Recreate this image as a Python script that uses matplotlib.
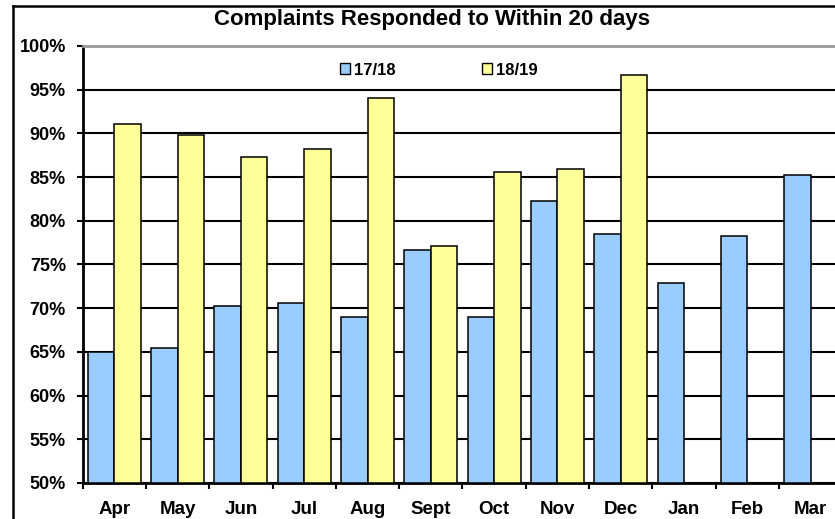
import matplotlib.pyplot as plt
from matplotlib.lines import Line2D
from matplotlib.patches import Patch
import numpy as np

months = ["Apr", "May", "Jun", "Jul", "Aug", "Sept", "Oct", "Nov", "Dec", "Jan", "Feb", "Mar"]
y1718 = [65.0, 65.5, 70.2, 70.6, 69.0, 76.7, 69.0, 82.3, 78.5, 72.9, 78.3, 85.2]
y1819 = [91.1, 89.8, 87.3, 88.2, 94.0, 77.1, 85.6, 85.9, 96.7]
yticks = [50, 55, 60, 65, 70, 75, 80, 85, 90, 95, 100]

plt.rcParams['font.family'] = ['Liberation Sans', 'DejaVu Sans']
plt.rcParams['font.weight'] = 'bold'

blue = "#99CCFF"
yellow = "#FFFF99"

fig = plt.figure(figsize=(8.35, 5.19), dpi=100)
ax = fig.add_axes([0.099, 0.0694, 0.9097, 0.842])

x = np.arange(len(months))
w = 0.418
ax.bar(x - w / 2, np.array(y1718) - 50, w, bottom=50, color=blue, edgecolor="black", linewidth=1.1, zorder=3)
x2 = np.arange(len(y1819))
ax.bar(x2 + w / 2, np.array(y1819) - 50, w, bottom=50, color=yellow, edgecolor="black", linewidth=1.1, zorder=3)

ax.set_xlim(-0.5, 11.5)
ax.set_ylim(50, 100)
ax.set_yticks(yticks)
ax.set_yticklabels([f"{v}%" for v in yticks])
ax.set_xticks(np.arange(-0.5, 12, 1))
ax.set_xticklabels([])
ax.set_xticks(x, minor=True)
ax.set_xticklabels(months, minor=True)
ax.tick_params(axis='x', which='minor', length=0, pad=13, labelsize=13.5)
ax.tick_params(axis='x', which='major', length=4, width=1.5, direction='out')
ax.tick_params(axis='y', length=4, width=1.5, pad=8, labelsize=13)

ax.yaxis.grid(True, color="black", linewidth=1.5, zorder=0)
ax.yaxis.get_gridlines()[-1].set_visible(False)
ax.set_axisbelow(True)

for s in ["left", "bottom"]:
    ax.spines[s].set_linewidth(2)
    ax.spines[s].set_color("black")
ax.spines["right"].set_visible(False)
ax.spines["top"].set_color("#999999")
ax.spines["top"].set_linewidth(2)

handles = [Patch(facecolor=blue, edgecolor="black", label="17/18"),
           Patch(facecolor=yellow, edgecolor="black", label="18/19")]
ax.legend(handles=handles, loc="center", bbox_to_anchor=(0.469, 0.945), ncol=2, frameon=False,
          fontsize=12, handlelength=0.6, handleheight=0.6, handletextpad=0.25, columnspacing=5.2)

fig.text(0.517, 0.963, "Complaints Responded to Within 20 days", ha="center", va="center",
         fontsize=16, fontweight="bold")

fig.add_artist(Line2D([13 / 835, 13 / 835], [0, 1 - 6 / 519], color="black", linewidth=1.8))
fig.add_artist(Line2D([13 / 835, 1], [1 - 6 / 519, 1 - 6 / 519], color="black", linewidth=1.8))

fig.savefig("out.png", dpi=100)
